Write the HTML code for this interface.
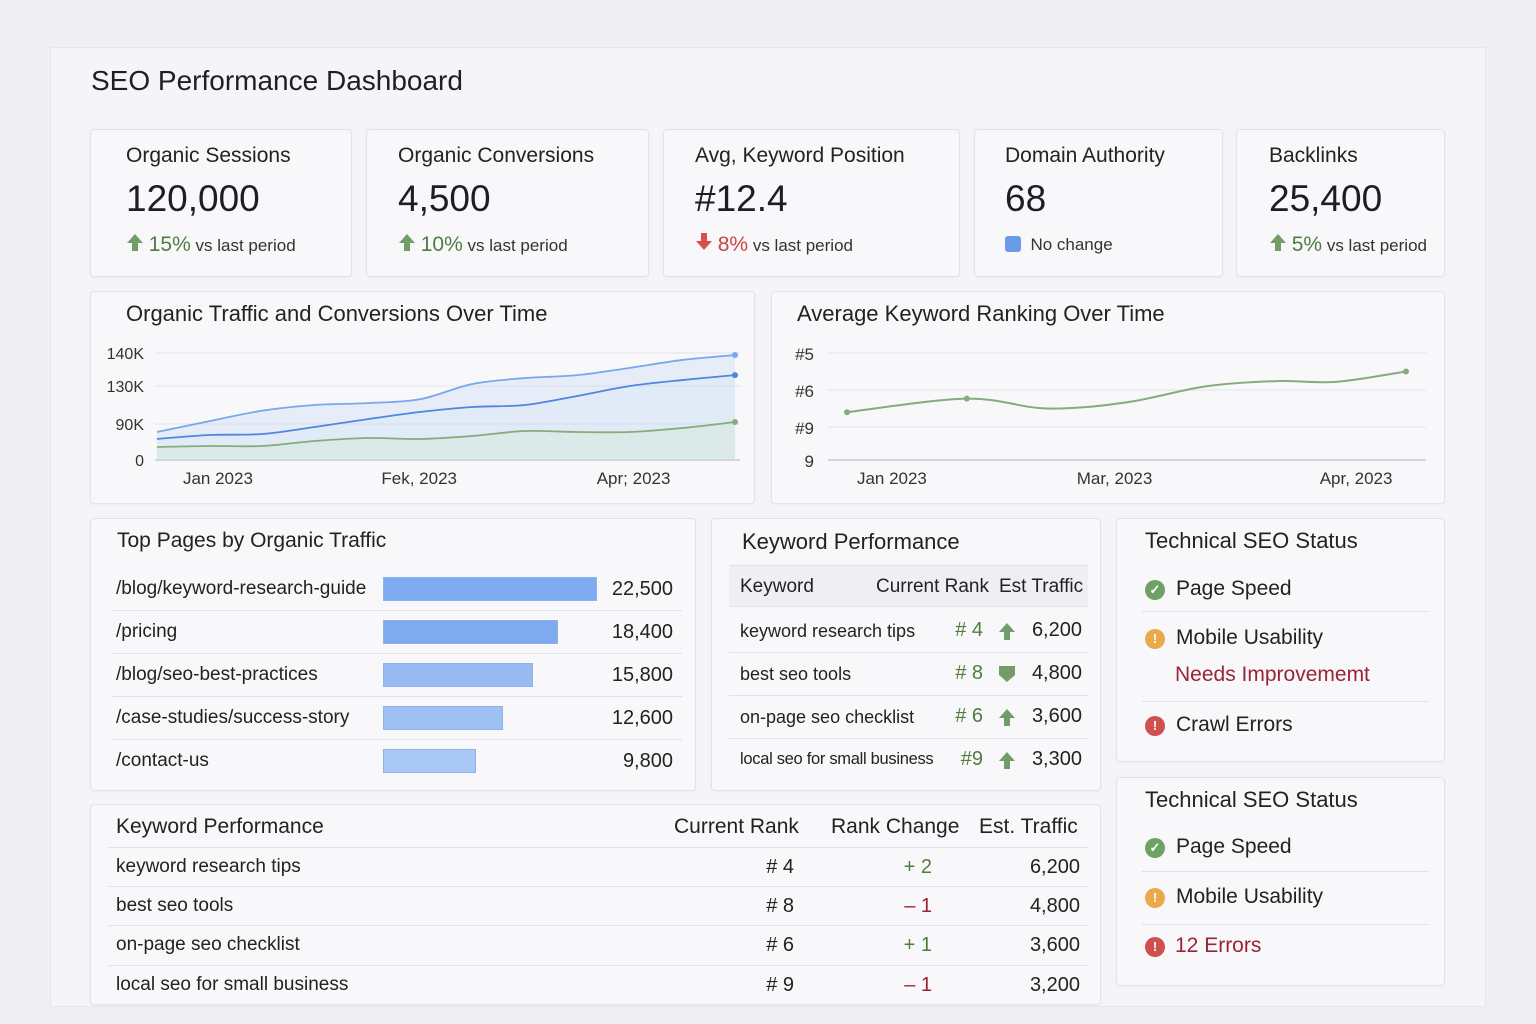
<!DOCTYPE html>
<html><head><meta charset="utf-8">
<style>
*{box-sizing:border-box;margin:0;padding:0}
body{width:1536px;height:1024px;background:#efeef3;font-family:"Liberation Sans",sans-serif;color:#222;position:relative;overflow:hidden}
.a{position:absolute;white-space:nowrap}
.card{position:absolute;background:#f8f8fa;border:1px solid #e3e2e8;border-radius:4px;box-shadow:0 1px 2px rgba(0,0,0,0.04)}
.kt{font-size:21px;color:#222}
.kv{font-size:37px;color:#1d1d24}
.kd{font-size:17px;color:#333}
.g{color:#4f7d3f}.r{color:#c44}
.ct{font-size:21px;color:#222}
.tx{font-size:19px;color:#222}
.hl{position:absolute;height:1px;background:#e2e1e7}
.ico{position:absolute;width:20px;height:20px;border-radius:50%;color:#fff;font-size:13px;font-weight:bold;text-align:center;line-height:20px}
</style></head><body>
<div class="a" style="left:50px;top:47px;width:1436px;height:960px;background:#f5f5f8;border:1px solid #e6e5eb"></div>
<div class="a" style="left:91px;top:65px;font-size:28px;color:#1e1e26">SEO Performance Dashboard</div>

<div class="card" style="left:90px;top:129px;width:262px;height:148px"></div>
<div class="a kt" style="left:126px;top:144px">Organic Sessions</div>
<div class="a kv" style="left:126px;top:178px">120,000</div>
<div class="a kd" style="left:126px;top:233px"><svg width="18" height="18" viewBox="0 0 18 18"><path d="M9 1L17 10H12V18H6V10H1Z" fill="#739d68"/></svg> <span class="g" style="font-size:21px">15%</span> vs last period</div>

<div class="card" style="left:366px;top:129px;width:283px;height:148px"></div>
<div class="a kt" style="left:398px;top:144px">Organic Conversions</div>
<div class="a kv" style="left:398px;top:178px">4,500</div>
<div class="a kd" style="left:398px;top:233px"><svg width="18" height="18" viewBox="0 0 18 18"><path d="M9 1L17 10H12V18H6V10H1Z" fill="#739d68"/></svg> <span class="g" style="font-size:21px">10%</span> vs last period</div>

<div class="card" style="left:663px;top:129px;width:297px;height:148px"></div>
<div class="a kt" style="left:695px;top:144px">Avg, Keyword Position</div>
<div class="a kv" style="left:695px;top:178px">#12.4</div>
<div class="a kd" style="left:695px;top:233px"><svg width="18" height="18" viewBox="0 0 18 18"><path d="M9 17L17 8H12V0H6V8H1Z" fill="#d65050"/></svg> <span class="r" style="font-size:21px">8%</span> vs last period</div>

<div class="card" style="left:974px;top:129px;width:249px;height:148px"></div>
<div class="a kt" style="left:1005px;top:144px">Domain Authority</div>
<div class="a kv" style="left:1005px;top:178px">68</div>
<div class="a kd" style="left:1005px;top:235px"><span style="display:inline-block;width:16px;height:16px;background:#6b9be8;border-radius:3px;vertical-align:-2px"></span>&nbsp; No change</div>

<div class="card" style="left:1236px;top:129px;width:209px;height:148px"></div>
<div class="a kt" style="left:1269px;top:144px">Backlinks</div>
<div class="a kv" style="left:1269px;top:178px">25,400</div>
<div class="a kd" style="left:1269px;top:233px"><svg width="18" height="18" viewBox="0 0 18 18"><path d="M9 1L17 10H12V18H6V10H1Z" fill="#739d68"/></svg> <span class="g" style="font-size:21px">5%</span> vs last period</div>

<div class="card" style="left:90px;top:291px;width:665px;height:213px"></div>
<div class="a ct" style="left:126px;top:301px;font-size:22px">Organic Traffic and Conversions Over Time</div>
<div class="card" style="left:771px;top:291px;width:674px;height:213px"></div>
<div class="a ct" style="left:797px;top:301px;font-size:22px">Average Keyword Ranking Over Time</div>
<svg class="a" id="charts" style="left:0;top:0" width="1536" height="1024" font-family="Liberation Sans, sans-serif"></svg>

<div class="card" style="left:90px;top:518px;width:606px;height:273px"></div>
<div class="a ct" style="left:117px;top:529px">Top Pages by Organic Traffic</div>
<div id="pages"></div>

<div class="card" style="left:711px;top:518px;width:390px;height:273px"></div>
<div class="a ct" style="left:742px;top:529px;font-size:22px">Keyword Performance</div>
<div class="a" style="left:729px;top:565px;width:359px;height:42px;background:#efeef3;border-top:1px solid #e2e1e7;border-bottom:1px solid #e2e1e7"></div>
<div class="a tx" style="left:740px;top:576px">Keyword</div>
<div class="a tx" style="left:876px;top:576px">Current Rank</div>
<div class="a tx" style="left:999px;top:576px">Est Traffic</div>
<div id="kw"></div>

<div class="card" style="left:1116px;top:518px;width:329px;height:244px"></div>
<div class="a ct" style="left:1145px;top:528px;font-size:22px">Technical SEO Status</div>
<div class="ico" style="left:1145px;top:580px;background:#6fa066">✓</div>
<div class="a tx" style="left:1176px;top:577px;font-size:21px">Page Speed</div>
<div class="hl" style="left:1142px;top:611px;width:287px"></div>
<div class="ico" style="left:1145px;top:629px;background:#eaa94a">!</div>
<div class="a tx" style="left:1176px;top:626px;font-size:21px">Mobile Usability</div>
<div class="a tx" style="left:1175px;top:663px;font-size:21px;color:#9a2335">Needs Improvememt</div>
<div class="hl" style="left:1142px;top:701px;width:287px"></div>
<div class="ico" style="left:1145px;top:716px;background:#d05050">!</div>
<div class="a tx" style="left:1176px;top:713px;font-size:21px">Crawl Errors</div>

<div class="card" style="left:1116px;top:777px;width:329px;height:209px"></div>
<div class="a ct" style="left:1145px;top:787px;font-size:22px">Technical SEO Status</div>
<div class="ico" style="left:1145px;top:838px;background:#6fa066">✓</div>
<div class="a tx" style="left:1176px;top:835px;font-size:21px">Page Speed</div>
<div class="hl" style="left:1142px;top:871px;width:287px"></div>
<div class="ico" style="left:1145px;top:888px;background:#eaa94a">!</div>
<div class="a tx" style="left:1176px;top:885px;font-size:21px">Mobile Usability</div>
<div class="hl" style="left:1142px;top:924px;width:287px"></div>
<div class="ico" style="left:1145px;top:937px;background:#d05050">!</div>
<div class="a tx" style="left:1175px;top:934px;font-size:21px;color:#9a2335">12 Errors</div>

<div class="card" style="left:90px;top:804px;width:1011px;height:201px"></div>
<div class="a tx" style="left:116px;top:815px;font-size:21px">Keyword Performance</div>
<div class="a tx" style="left:674px;top:815px;font-size:21px">Current Rank</div>
<div class="a tx" style="left:831px;top:815px;font-size:21px">Rank Change</div>
<div class="a tx" style="left:979px;top:815px;font-size:21px">Est. Traffic</div>
<div id="bt"></div>

<script>
const trafficMonths = [0,1,2,3,4,5,6,7,8,9,10,11];
const trafficXTicks = ["Jan 2023","Fek, 2023","Apr; 2023"];
const trafficXTickIdx = [1.16,4.99,9.07];
const trafficYTicks = [0,90,130,140];
const trafficYLabels = ["0","90K","130K","140K"];
const sessionsTotal = [70,93,104,110,112,116,130.6,132.4,133.3,135.5,137.9,139.4];
const sessionsOrganic = [52.5,62.5,65,82.5,95,102.6,107.9,110,119.5,130,131.8,133.3];
const conversions = [32.5,35,35,47.5,55,52.5,60,72.5,70,70,80,92.1];
const rankWeeks = [0,6,10,14,18,21.5,24.5,28];
const rankValues = [7.8,6.7,7.5,7.0,5.9,5.76,5.78,5.5];
const rankDots = [0,1,7];
const rankYTicks = [5,6,9,12];
const rankYLabels = ["#5","#6","#9","9"];
const rankXTicks = ["Jan 2023","Mar, 2023","Apr, 2023"];
const rankXTickWeeks = [2.25,13.4,25.5];
const pageNames = ["/blog/keyword-research-guide","/pricing","/blog/seo-best-practices","/case-studies/success-story","/contact-us"];
const pageViews = [22500,18400,15800,12600,9800];
const kwNames = ["keyword research tips","best seo tools","on-page seo checklist","local seo for small business"];
const kwRanks = [4,8,6,9];
const kwTrend = ["up","down","up","up"];
const kwTraffic = ["6,200","4,800","3,600","3,300"];
const btRanks = [4,8,6,9];
const btChange = ["+ 2","– 1","+ 1","– 1"];
const btTraffic = ["6,200","4,800","3,600","3,200"];

const NS="http://www.w3.org/2000/svg";
const svg=document.getElementById('charts');
function mk(tag,attrs,parent){const e=document.createElementNS(NS,tag);for(const k in attrs)e.setAttribute(k,attrs[k]);(parent||svg).appendChild(e);return e;}
function piece(v,ticks,pix){for(let i=0;i<ticks.length-1;i++){if(v<=ticks[i+1]||i===ticks.length-2){return pix[i]+(v-ticks[i])/(ticks[i+1]-ticks[i])*(pix[i+1]-pix[i]);}}}
function smooth(pts){let d="M"+pts[0][0]+","+pts[0][1];for(let i=0;i<pts.length-1;i++){const p0=pts[i-1]||pts[i],p1=pts[i],p2=pts[i+1],p3=pts[i+2]||p2;const c1x=p1[0]+(p2[0]-p0[0])/6,c1y=p1[1]+(p2[1]-p0[1])/6,c2x=p2[0]-(p3[0]-p1[0])/6,c2y=p2[1]-(p3[1]-p1[1])/6;d+=` C${c1x},${c1y} ${c2x},${c2y} ${p2[0]},${p2[1]}`;}return d;}

const tPix=[460,424,386,353];
const tx=i=>157+i*(735-157)/(trafficMonths.length-1);
const ty=v=>piece(v,trafficYTicks,tPix);
trafficYTicks.forEach((t,i)=>{
  const l=mk('line',{x1:155,x2:740,y1:ty(t),y2:ty(t),stroke:i===0?'#c9c8cf':'#e4e3ea','stroke-width':i===0?1.5:1});
  
  
  const tt=mk('text',{x:144,y:ty(t)+6,'text-anchor':'end','font-size':16,fill:'#333'});tt.textContent=trafficYLabels[i];
  
  
});
trafficXTicks.forEach((t,i)=>{const e=mk('text',{x:tx(trafficXTickIdx[i]),y:484,'text-anchor':'middle','font-size':17,fill:'#333'});e.textContent=t;
  
  });
function series(vals,color,fill,name,w){
  const pts=trafficMonths.map((m,i)=>[tx(m),ty(vals[i])]);
  const d=smooth(pts);
  if(fill){const a=mk('path',{d:d+` L${pts[pts.length-1][0]},460 L${pts[0][0]},460 Z`,fill:fill});
    
    }
  const p=mk('path',{d:d,fill:'none',stroke:color,'stroke-width':w});
  
  
  const last=pts[pts.length-1];
  const c=mk('circle',{cx:last[0],cy:last[1],r:3,fill:color});
  
  
}
series(sessionsTotal,'#79a7ee','rgba(190,212,246,0.3)','sessions-total',1.8);
series(sessionsOrganic,'#4f86e0','rgba(190,212,246,0.12)','sessions-organic',1.8);
series(conversions,'#86ab7d','rgba(215,232,215,0.45)','conversions',1.8);

const rPix=[353,390,427,460];
const rx=w=>847+w*(1406-847)/28;
const ry=v=>piece(v,rankYTicks,rPix);
rankYTicks.forEach((t,i)=>{
  const l=mk('line',{x1:828,x2:1426,y1:ry(t),y2:ry(t),stroke:i===3?'#c9c8cf':'#e4e3ea','stroke-width':i===3?1.5:1});
  
  
  const tt=mk('text',{x:814,y:ry(t)+7,'text-anchor':'end','font-size':17,fill:'#333'});tt.textContent=rankYLabels[i];
  
  
});
rankXTicks.forEach((t,i)=>{const e=mk('text',{x:rx(rankXTickWeeks[i]),y:484,'text-anchor':'middle','font-size':17,fill:'#333'});e.textContent=t;
  
  });
const rpts=rankWeeks.map((w,i)=>[rx(w),ry(rankValues[i])]);
const rl=mk('path',{d:smooth(rpts),fill:'none',stroke:'#86ab7d','stroke-width':2});


rankDots.forEach(i=>{const c=mk('circle',{cx:rpts[i][0],cy:rpts[i][1],r:3,fill:'#86ab7d'});
  
  });

const pg=document.getElementById('pages');
const bx=v=>v*214/22500;
pageNames.forEach((n,i)=>{
  const y=589+i*43;
  let h='';
  h+=`<div class="a tx" style="left:116px;top:${y-11}px">${n}</div>`;
  h+=`<div class="a tx" style="left:560px;width:113px;text-align:right;top:${y-11}px;font-size:20px">${pageViews[i].toLocaleString('en-US')}</div>`;
  if(i<4)h+=`<div class="hl" style="left:112px;top:${y+21}px;width:570px"></div>`;
  pg.insertAdjacentHTML('beforeend',h);
  const b=document.createElement('div');
  b.className='a';
  b.style.cssText=`left:383px;top:${y-12}px;height:24px;width:${bx(pageViews[i])}px;background:${['#7eaaf0','#7eaaf0','#97bbf2','#9fc0f3','#aac8f4'][i]};border:1px solid #8fb2ec`;
  
  
  pg.appendChild(b);
});

const kw=document.getElementById('kw');
kwNames.forEach((n,i)=>{
  const y=631+i*43;
  const arrow=kwTrend[i]==='up'?'<path d="M9 1L17 10H12V18H6V10H1Z" fill="#739d68"/>':'<path d="M1 1H17V10L9 17L1 10Z" fill="#739d68"/>';
  let h=`<div class="a" style="left:740px;top:${y-10}px;font-size:${i===3?16.5:18}px;letter-spacing:${i===3?'-0.3px':'0'}">${n}</div>`;
  h+=`<div class="a" style="left:940px;width:43px;text-align:right;top:${y-12}px;font-size:20px;color:#4f7d3f">${i===3?'#':'# '}${kwRanks[i]}</div>`;
  h+=`<svg class="a" style="left:998px;top:${y-9}px" width="18" height="18" viewBox="0 0 18 18">${arrow}</svg>`;
  h+=`<div class="a" style="left:1020px;width:62px;text-align:right;top:${y-12}px;font-size:20px">${kwTraffic[i]}</div>`;
  if(i<3)h+=`<div class="hl" style="left:729px;top:${y+21}px;width:359px"></div>`;
  kw.insertAdjacentHTML('beforeend',h);
});

const bt=document.getElementById('bt');
const tops=[867,906,945,985];
kwNames.forEach((n,i)=>{
  const y=tops[i];
  const col=btChange[i][0]==='+'?'#4f7d3f':'#9a2335';
  let h=`<div class="hl" style="left:108px;top:${y-20}px;width:980px"></div>`;
  h+=`<div class="a tx" style="left:116px;top:${y-11}px">${n}</div>`;
  h+=`<div class="a tx" style="left:740px;width:54px;text-align:right;top:${y-11}px;font-size:20px"># ${btRanks[i]}</div>`;
  h+=`<div class="a tx" style="left:880px;width:52px;text-align:right;top:${y-11}px;font-size:20px;color:${col}">${btChange[i]}</div>`;
  h+=`<div class="a tx" style="left:1000px;width:80px;text-align:right;top:${y-11}px;font-size:20px">${btTraffic[i]}</div>`;
  bt.insertAdjacentHTML('beforeend',h);
});
</script>
</body></html>
